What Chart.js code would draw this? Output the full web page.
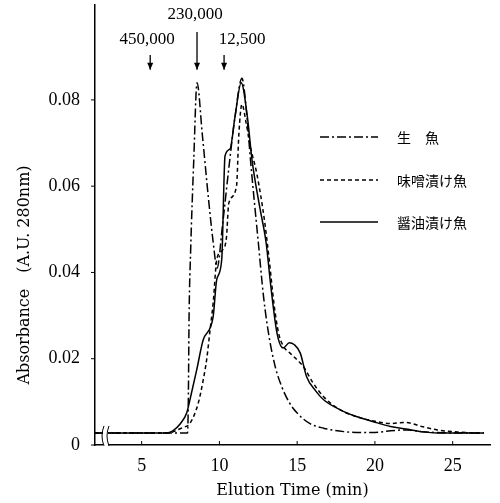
<!DOCTYPE html>
<html>
<head>
<meta charset="utf-8">
<script src="https://cdn.jsdelivr.net/npm/chart.js@4.4.1/dist/chart.umd.min.js"></script>
<style>
  html, body { margin: 0; padding: 0; background: #fff; }
  #wrap { width: 500px; height: 503px; }
</style>
</head>
<body>
<div id="wrap"><canvas id="chart" width="500" height="503"></canvas></div>
<script>
// =======================
// DATA
// =======================

const seriesNames = ["生\u3000魚", "味噌漬け魚", "醤油漬け魚"];

// 生魚 (dash-dot)
const rawTime = [2, 7.95, 8.0, 8.05, 8.15, 8.35, 8.56, 8.9, 9.3, 9.6, 9.85, 10.2, 10.6, 11.0, 11.45, 11.75, 12.0, 12.5, 12.85, 13.2, 13.6, 14.0, 14.5, 15.0, 15.8, 16.7, 18.0, 19.0, 20.0, 21.0, 22.0, 23.0, 25.0, 27.0];
const rawAbs = [0.0028, 0.0028, 0.01, 0.03, 0.045, 0.066, 0.084, 0.072, 0.057, 0.047, 0.041, 0.051, 0.064, 0.076, 0.085, 0.077, 0.066, 0.047, 0.034, 0.025, 0.018, 0.0136, 0.0098, 0.0074, 0.005, 0.0039, 0.0031, 0.0029, 0.0029, 0.0033, 0.0035, 0.0031, 0.0028, 0.0028];

// 味噌漬け魚 (dashed)
const misoTime = [2, 6.8, 7.04, 7.6, 8.1, 8.64, 8.96, 9.18, 9.4, 9.6, 9.83, 10.15, 10.45, 10.6, 11.1, 11.25, 11.45, 11.7, 12.0, 12.4, 12.9, 13.2, 13.5, 13.8, 14.1, 14.54, 15.0, 15.4, 16.0, 16.7, 17.8, 18.8, 20.0, 21.0, 22.0, 23.0, 24.0, 25.3, 27.0];
const misoAbs = [0.0028, 0.0028, 0.0031, 0.004, 0.005, 0.0097, 0.0151, 0.0198, 0.0267, 0.033, 0.043, 0.045, 0.048, 0.056, 0.060, 0.072, 0.079, 0.075, 0.069, 0.063, 0.052, 0.043, 0.033, 0.026, 0.023, 0.0213, 0.0197, 0.0182, 0.0145, 0.0112, 0.0081, 0.0066, 0.0055, 0.005, 0.0052, 0.0043, 0.0035, 0.003, 0.0027];

// 醤油漬け魚 (solid)
const soyTime = [2, 6.6, 7.0, 7.5, 7.9, 8.2, 8.54, 8.96, 9.4, 9.6, 9.83, 10.15, 10.36, 10.68, 11.0, 11.4, 11.8, 12.1, 12.6, 13.0, 13.3, 13.7, 14.1, 14.5, 14.8, 15.2, 15.6, 16.2, 16.7, 17.8, 18.8, 19.9, 21.0, 22.0, 23.0, 24.0, 27.0];
const soyAbs = [0.0028, 0.0028, 0.0033, 0.005, 0.0075, 0.012, 0.0174, 0.0244, 0.0271, 0.0298, 0.0384, 0.043, 0.067, 0.0686, 0.076, 0.084, 0.076, 0.066, 0.055, 0.047, 0.037, 0.026, 0.0225, 0.0237, 0.0233, 0.0213, 0.0159, 0.0125, 0.0105, 0.0081, 0.0066, 0.0054, 0.0043, 0.0037, 0.0031, 0.0028, 0.0028];

const xTicks = [5, 10, 15, 20, 25];
const yTicks = [0, 0.02, 0.04, 0.06, 0.08];
const yTickLabels = ["0", "0.02", "0.04", "0.06", "0.08"];

// molecular weight markers
const markerLabels = ["450,000", "230,000", "12,500"];
const markerTimes = [5.55, 8.56, 10.3];

// =======================
// HELPERS
// =======================

function toPoints(xs, ys) {
  return xs.map((x, i) => ({ x: x, y: ys[i] }));
}

const serif = "'Liberation Serif', 'DejaVu Serif', serif";
const cjk = "'Noto Sans CJK JP', 'Noto Sans', sans-serif";

// =======================
// PLUGIN: ticks, arrows, legend, y title
// =======================

const decorations = {
  id: "decorations",
  afterDraw(chart) {
    const ctx = chart.ctx;
    const xs = chart.scales.x;
    const ys = chart.scales.y;
    const area = chart.chartArea;

    ctx.save();
    ctx.strokeStyle = "#000";
    ctx.fillStyle = "#000";
    ctx.lineWidth = 1;

    // inward x ticks
    xTicks.forEach(v => {
      const px = xs.getPixelForValue(v);
      ctx.beginPath();
      ctx.moveTo(px, area.bottom);
      ctx.lineTo(px, area.bottom - 4);
      ctx.stroke();
    });
    // y ticks
    yTicks.forEach(v => {
      const py = ys.getPixelForValue(v);
      ctx.beginPath();
      ctx.moveTo(area.left - 4, py);
      ctx.lineTo(area.left, py);
      ctx.stroke();
    });

    // axis break marks near origin
    const bx = area.left + 10;
    const by = ys.getPixelForValue(0.0028);
    ctx.fillStyle = "#fff";
    ctx.fillRect(bx - 2, by - 8, 5, 22);
    ctx.fillStyle = "#000";
    [bx - 2, bx + 3].forEach(x0 => {
      ctx.beginPath();
      ctx.moveTo(x0 + 1, by - 7);
      ctx.quadraticCurveTo(x0 - 3, by + 3, x0 + 1, by + 13);
      ctx.stroke();
    });

    // arrows + MW labels
    ctx.font = "17px " + serif;
    ctx.textAlign = "center";
    ctx.textBaseline = "middle";
    const tipY = ys.getPixelForValue(0.087);
    markerTimes.forEach((t, i) => {
      const px = xs.getPixelForValue(t);
      const tailY = i === 1 ? area.top + 27 : area.top + 50;
      ctx.beginPath();
      ctx.moveTo(px, tailY);
      ctx.lineTo(px, tipY);
      ctx.lineWidth = 1.3;
      ctx.stroke();
      ctx.beginPath();
      ctx.moveTo(px - 3, tipY - 7);
      ctx.lineTo(px, tipY);
      ctx.lineTo(px + 3, tipY - 7);
      ctx.closePath();
      ctx.fill();
      let lx = px, ly = area.top + 35;
      if (i === 0) lx = px - 3;
      if (i === 1) { lx = px - 2; ly = area.top + 10; }
      if (i === 2) lx = px + 18;
      ctx.fillText(markerLabels[i], lx, ly);
    });

    // legend
    ctx.font = "14px " + cjk;
    ctx.textAlign = "left";
    const legY = [137, 180, 222];
    chart.data.datasets.forEach((ds, i) => {
      ctx.lineWidth = 1.4;
      ctx.setLineDash(ds.borderDash || []);
      ctx.beginPath();
      ctx.moveTo(320, legY[i]);
      ctx.lineTo(378, legY[i]);
      ctx.stroke();
      ctx.setLineDash([]);
      ctx.fillText(ds.label, 397, legY[i] + 1);
    });

    // y axis title
    ctx.translate(25, 275);
    ctx.rotate(-Math.PI / 2);
    ctx.textAlign = "center";
    ctx.font = "16px 'DejaVu Serif', serif";
    ctx.fillText("Absorbance\u3000(A.U. 280nm)", 0, 0);
    ctx.restore();
  }
};

// =======================
// CHART
// =======================

const lineStyle = { borderColor: "#000", borderWidth: 1.5, pointRadius: 0, fill: false, cubicInterpolationMode: "monotone" };

new Chart(document.getElementById("chart"), {
  type: "line",
  data: {
    datasets: [
      Object.assign({ label: seriesNames[0], data: toPoints(rawTime, rawAbs), borderDash: [9, 3, 2, 3] }, lineStyle),
      Object.assign({ label: seriesNames[1], data: toPoints(misoTime, misoAbs), borderDash: [4, 3] }, lineStyle),
      Object.assign({ label: seriesNames[2], data: toPoints(soyTime, soyAbs), borderDash: [] }, lineStyle)
    ]
  },
  options: {
    responsive: false,
    animation: false,
    layout: { padding: { top: 5, right: 10, left: 0, bottom: 0 } },
    plugins: {
      legend: { display: false },
      tooltip: { enabled: false }
    },
    scales: {
      x: {
        type: "linear",
        min: 2,
        max: 27.4,
        afterBuildTicks: s => { s.ticks = xTicks.map(v => ({ value: v })); },
        afterFit: s => { s.height = 58; s.paddingLeft = 0; s.paddingRight = 0; },
        grid: { display: false },
        border: { display: true, color: "#000", width: 1.5 },
        ticks: { color: "#000", padding: 2, font: { family: serif, size: 18 } },
        title: { display: true, text: "Elution Time (min)", color: "#000", padding: { top: 0, bottom: 3 }, font: { family: "'DejaVu Serif', serif", size: 16 } }
      },
      y: {
        min: 0,
        max: 0.102,
        afterBuildTicks: s => { s.ticks = yTicks.map(v => ({ value: v })); },
        afterFit: s => { s.width = 95; s.paddingTop = 0; s.paddingBottom = 0; },
        grid: { display: false },
        border: { display: true, color: "#000", width: 1.5 },
        ticks: {
          color: "#000",
          padding: 7,
          font: { family: serif, size: 18 },
          callback: v => yTickLabels[yTicks.indexOf(v)]
        }
      }
    }
  },
  plugins: [decorations]
});
</script>
</body>
</html>
